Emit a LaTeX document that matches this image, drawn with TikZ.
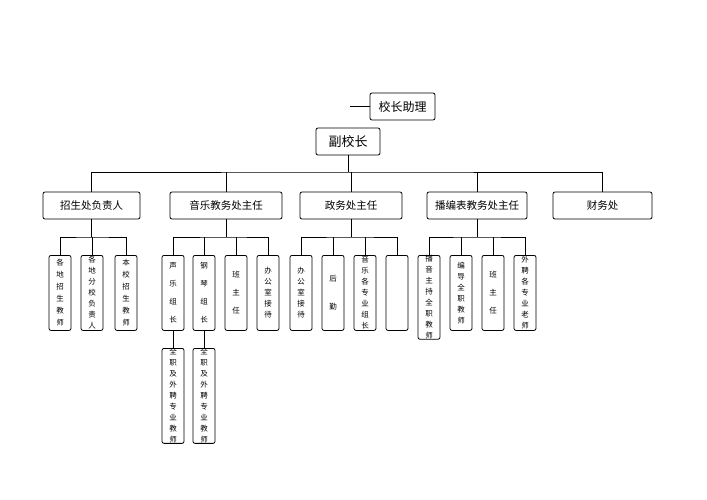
\documentclass[tikz,border=0pt]{standalone}
\usepackage{fontspec}
\newfontfamily\cjk{Noto Sans CJK SC}
\begin{document}
\begin{tikzpicture}[x=1pt,y=-1pt,
  box/.style={draw,rounded corners=2pt,line width=0.8pt,align=center,inner sep=0pt},
  vbox/.style={box,minimum width=22,minimum height=75,anchor=north},
  sbox/.style={box,minimum width=22,minimum height=89,anchor=north},
  ln/.style={line width=0.7pt}]
\useasboundingbox (0,0) rectangle (707,500);
\newcommand{\vt}[2]{\fontsize{7.5}{#1}\cjk #2}
\node[box,minimum width=65,minimum height=27,font=\fontsize{12}{14}\cjk] (zl) at (402.5,106.5) {校长助理};
\coordinate (zll) at (350,106.5);
\draw[ln] (zll) -- (zl.west);
\node[box,minimum width=64,minimum height=27,font=\fontsize{13}{15}\cjk] (fx) at (348,141.5) {副校长};
\node[box,minimum width=97,minimum height=27,font=\fontsize{10.5}{12}\cjk] (a) at (91.5,205.5) {招生处负责人};
\node[box,minimum width=112,minimum height=27,font=\fontsize{10.5}{12}\cjk] (b) at (226,205.5) {音乐教务处主任};
\node[box,minimum width=102,minimum height=27,font=\fontsize{10.5}{12}\cjk] (c) at (351,205.5) {政务处主任};
\node[box,minimum width=100,minimum height=27,font=\fontsize{10.5}{12}\cjk] (d) at (477,205.5) {播编表教务处主任};
\node[box,minimum width=99,minimum height=27,font=\fontsize{10.5}{12}\cjk] (e) at (602.5,205.5) {财务处};
\draw[ln] (fx.south) -- (348,172);
\draw[ln] (a.north) |- (348,172) -| (e.north);
\foreach \n in {b,c,d} \draw[ln] (\n.north) -- (\n.north |- 0,172);
% level 3
\foreach \n/\x/\s/\t in {
 a1/60/12/各\\地\\招\\生\\教\\师, a2/92/11/各\\地\\分\\校\\负\\责\\人, a3/126/12/本\\校\\招\\生\\教\\师,
 b1/173/18/声\\乐\\组\\长, b2/204/18/钢\\琴\\组\\长, b3/236/18/班\\主\\任, b4/268/11/办\\公\\室\\接\\待,
 c1/301/11/办\\公\\室\\接\\待, c2/333/28/后\\勤, c3/365/11/音\\乐\\各\\专\\业\\组\\长, c4/397/11/{},
 d1/429/11/播\\音\\主\\持\\全\\职\\教\\师, d2/461/11/编\\导\\全\\职\\教\\师, d3/493/18/班\\主\\任, d4/525/11/外\\聘\\各\\专\\业\\老\\师}
 \node[vbox,font=\vt{\s}{}] (\n) at (\x,255) {\t};
\foreach \p/\l/\r in {a/a1/a3,b/b1/b4,c/c1/c4,d/d1/d4}{
 \draw[ln] (\p.south) -- (\p.south |- 0,237);
 \draw[ln] (\l.north) |- (\p.south |- 0,237) -| (\r.north);
}
\foreach \n in {a2,b2,b3,c2,c3,d2,d3} \draw[ln] (\n.north) -- (\n.north |- 0,237);
\node[sbox,font=\vt{11}{}] (b5) at (173,348) {全\\职\\及\\外\\聘\\专\\业\\教\\师};
\node[sbox,font=\vt{11}{}] (b6) at (204,348) {全\\职\\及\\外\\聘\\专\\业\\教\\师};
\draw[ln] (b1.south) -- (b5.north);
\draw[ln] (b2.south) -- (b6.north);
\end{tikzpicture}
\end{document}
